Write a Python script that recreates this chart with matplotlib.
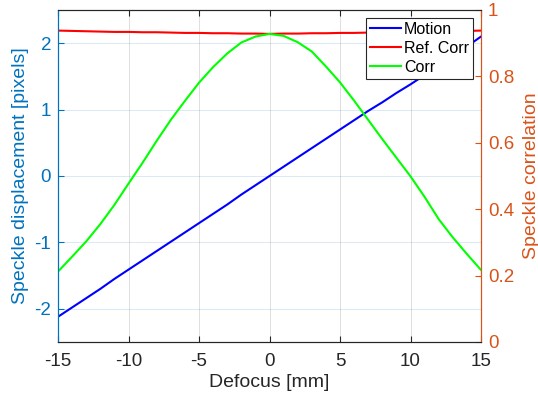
import numpy as np
import matplotlib
matplotlib.use("Agg")
import matplotlib.pyplot as plt

plt.rcParams['font.family'] = ['Liberation Sans', 'DejaVu Sans']

defocus = list(range(-15, 16))
motion = [-2.12, -1.98, -1.84, -1.70, -1.55, -1.41, -1.27, -1.13, -0.99, -0.85,
          -0.71, -0.57, -0.43, -0.28, -0.14, 0.00, 0.14, 0.28, 0.42, 0.56,
          0.70, 0.84, 0.98, 1.11, 1.25, 1.38, 1.52, 1.66, 1.80, 1.95, 2.10]
ref_corr = [0.938, 0.937, 0.936, 0.935, 0.934, 0.934, 0.933, 0.933, 0.932, 0.931,
            0.931, 0.930, 0.930, 0.929, 0.929, 0.928, 0.929, 0.929, 0.930, 0.930,
            0.931, 0.931, 0.932, 0.933, 0.933, 0.934, 0.935, 0.935, 0.936, 0.937, 0.938]
corr = [0.212, 0.257, 0.303, 0.355, 0.413, 0.477, 0.540, 0.606, 0.669, 0.726,
        0.781, 0.828, 0.869, 0.902, 0.920, 0.928, 0.922, 0.903, 0.875, 0.830,
        0.782, 0.727, 0.669, 0.611, 0.555, 0.499, 0.437, 0.370, 0.315, 0.265, 0.217]

xticks = [-15, -10, -5, 0, 5, 10, 15]
yticks_left = [-2, -1, 0, 1, 2]
yticks_right = [0, 0.2, 0.4, 0.6, 0.8, 1]

LBLUE = '#0072BD'
ORANGE = '#D95319'
DARK = '#262626'

fig = plt.figure(figsize=(5.38, 3.98), dpi=100)
ax = fig.add_axes([58/538, 1-342/398, (481-58)/538, (342-10)/398])
ax2 = ax.twinx()

l1, = ax.plot(defocus, motion, color='#0000FF', lw=1.5, label='Motion')
l2, = ax2.plot(defocus, ref_corr, color='#FF0000', lw=1.5, label='Ref. Corr')
l3, = ax2.plot(defocus, corr, color='#00FF00', lw=1.5, label='Corr')

ax.set_xlim(-15, 15)
ax.set_ylim(-2.5, 2.5)
ax2.set_ylim(0, 1)
ax.set_xticks(xticks)
ax.set_xticklabels([str(v) for v in xticks])
ax.set_yticks(yticks_left)
ax.set_yticklabels([str(v) for v in yticks_left])
ax2.set_yticks(yticks_right)
ax2.set_yticklabels([('%g' % v) for v in yticks_right])

ax.xaxis.grid(True, color=DARK, alpha=0.15, lw=0.7)
ax.yaxis.grid(True, color=LBLUE, alpha=0.15, lw=0.7)
ax.set_axisbelow(True)

ax.tick_params(axis='x', direction='in', top=True, colors=DARK, labelsize=13.5, length=4, pad=8)
ax.tick_params(axis='y', direction='in', colors=LBLUE, labelsize=13.5, length=4, pad=5)
ax2.tick_params(axis='y', direction='in', colors=ORANGE, labelsize=13.5, length=4, pad=5)

for a in (ax, ax2):
    a.spines['top'].set_color(DARK)
    a.spines['bottom'].set_color(DARK)
    a.spines['left'].set_color(LBLUE)
    a.spines['right'].set_color(ORANGE)

ax.set_xlabel('Defocus [mm]', fontsize=14, color=DARK, labelpad=3)
ax.set_ylabel('Speckle displacement [pixels]', fontsize=14, color=LBLUE, labelpad=4)
ax2.set_ylabel('Speckle correlation', fontsize=14, color=ORANGE, labelpad=6)

leg = ax2.legend(handles=[l1, l2, l3], loc='upper right', fontsize=11.5, frameon=True,
                 fancybox=False, edgecolor=DARK, framealpha=1, handlelength=1.9,
                 handletextpad=0.2, borderpad=0.25, labelspacing=0.25,
                 borderaxespad=0, bbox_to_anchor=(0.981, 0.976))
leg.get_frame().set_linewidth(0.8)

fig.savefig('out.png', dpi=100)
